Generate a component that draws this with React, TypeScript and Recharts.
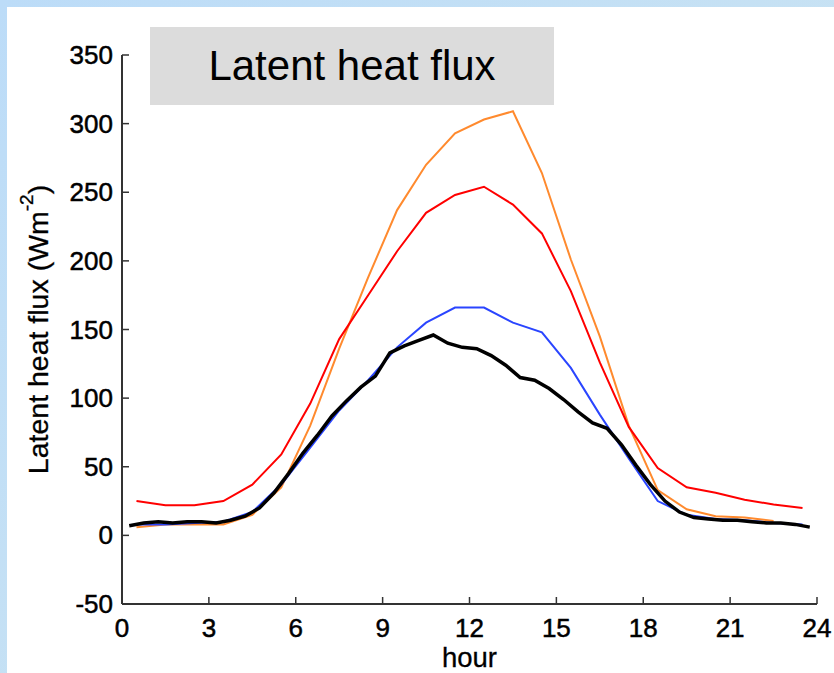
import { Line, LineChart, XAxis, YAxis } from "recharts";

// hours at half past each hour (colored runs)
const hoursMid = [
  0.5, 1.5, 2.5, 3.5, 4.5, 5.5, 6.5, 7.5, 8.5, 9.5, 10.5, 11.5,
  12.5, 13.5, 14.5, 15.5, 16.5, 17.5, 18.5, 19.5, 20.5, 21.5, 22.5, 23.5,
];

const redFlux = [
  25, 22, 22, 25, 37, 59, 96, 143, 175, 207, 235, 248,
  254, 241, 220, 178, 126, 79, 49, 35, 31, 26, 22.5, 20,
];

const orangeFlux = [
  6, 8, 8, 8, 15, 35, 80, 136, 188, 237, 270, 293,
  303, 309, 264, 201, 145, 80, 33, 19, 14, 13, 10.5, null,
];

const blueFlux = [
  8, 8, 9, 10, 17, 37, 64, 91, 113, 137, 155, 166,
  166, 155, 148, 122, 88, 56, 25, 15, 12, 11, 9, 8,
];

// observed run, finer time steps
const hoursObs = [
  0.25, 0.75, 1.25, 1.75, 2.25, 2.75, 3.25, 3.75, 4.25, 4.75, 5.25, 5.75,
  6.25, 6.75, 7.25, 7.75, 8.25, 8.75, 9.25, 9.75, 10.25, 10.75, 11.25, 11.75,
  12.25, 12.75, 13.25, 13.75, 14.25, 14.75, 15.25, 15.75, 16.25, 16.75, 17.25, 17.75,
  18.25, 18.75, 19.25, 19.75, 20.25, 20.75, 21.25, 21.75, 22.25, 22.75, 23.25, 23.75,
];

const blackFlux = [
  7, 9, 10, 9, 10, 10, 9, 11, 14, 20, 31, 45,
  60, 73, 87, 98, 108, 116, 133, 138, 142, 146, 140, 137,
  136, 131, 124, 115, 113, 107, 99, 90, 82, 78, 66, 51,
  37, 25, 17, 13, 12, 11, 11, 10, 9, 9, 8, 6,
];

const xTicks = [0, 3, 6, 9, 12, 15, 18, 21, 24];
const yTicks = [-50, 0, 50, 100, 150, 200, 250, 300, 350];

const toRows = (hours: number[], vals: (number | null)[]) =>
  hours.map((h, i) => ({ h, v: vals[i] }));

const FONT = "'Liberation Sans', Arial, Helvetica, sans-serif";
const AXIS = "#333";

function XTick(props: any) {
  const { x, y, payload } = props;
  return (
    <g>
      <line x1={x} x2={x} y1={y} y2={y - 7} stroke={AXIS} strokeWidth={1.5} />
      <text x={x} y={y + 33} textAnchor="middle" fontSize={26} fontFamily={FONT} fill="#000" stroke="#000" strokeWidth={0.5}>
        {payload.value}
      </text>
    </g>
  );
}

function YTick(props: any) {
  const { x, y, payload } = props;
  return (
    <g>
      <line x1={x} x2={x + 7} y1={y} y2={y} stroke={AXIS} strokeWidth={1.5} />
      <text x={x - 9} y={y + 9} textAnchor="end" fontSize={26} fontFamily={FONT} fill="#000" stroke="#000" strokeWidth={0.5}>
        {payload.value}
      </text>
    </g>
  );
}

export default function App() {
  return (
    <div
      style={{
        position: "absolute",
        left: 0,
        top: 0,
        width: 834,
        height: 673,
        background: "linear-gradient(135deg, #bcdcf8 0%, #cfe6f0 100%)",
        overflow: "hidden",
      }}
    >
      <div style={{ position: "absolute", left: 7, top: 7, right: 0, bottom: 0, background: "#fff" }} />
      <div
        style={{
          position: "absolute",
          left: 150,
          top: 27,
          width: 404,
          height: 78,
          background: "#dcdcdc",
        }}
      />
      <div
        style={{
          position: "absolute",
          left: 150,
          top: 42,
          width: 404,
          textAlign: "center",
          fontFamily: FONT,
          fontSize: 42,
          lineHeight: "48px",
          color: "#000",
        }}
      >
        Latent heat flux
      </div>
      <div style={{ position: "absolute", left: 0, top: 0 }}>
        <LineChart width={834} height={673} margin={{ top: 55, right: 17, bottom: 0, left: 0 }}>
          <XAxis
            type="number"
            dataKey="h"
            domain={[0, 24]}
            ticks={xTicks}
            height={69}
            tickSize={0}
            tickMargin={0}
            tickLine={false}
            tick={<XTick />}
            stroke={AXIS}
            strokeWidth={2}
            allowDuplicatedCategory={false}
            label={{
              content: (p: any) => {
                const vb = p.viewBox;
                return (
                  <text x={vb.x + vb.width / 2} y={vb.y + 63} textAnchor="middle" fontSize={27.5} fontFamily={FONT} fill="#000" stroke="#000" strokeWidth={0.3}>
                    hour
                  </text>
                );
              },
            }}
          />
          <YAxis
            type="number"
            domain={[-50, 350]}
            ticks={yTicks}
            width={122}
            tickSize={0}
            tickMargin={0}
            tickLine={false}
            tick={<YTick />}
            stroke={AXIS}
            strokeWidth={2}
            label={{
              content: (p: any) => {
                const vb = p.viewBox;
                const cx = vb.x + 38;
                const cy = vb.y + vb.height / 2;
                return (
                  <text
                    x={cx}
                    y={cy}
                    transform={`rotate(-90 ${cx} ${cy})`}
                    textAnchor="middle"
                    dominantBaseline="central"
                    fontSize={28.5}
                    fontFamily={FONT}
                    fill="#000"
                    stroke="#000"
                    strokeWidth={0.3}
                  >
                    Latent heat flux (Wm
                    <tspan dy={-12} fontSize={19}>-2</tspan>
                    <tspan dy={12}>)</tspan>
                  </text>
                );
              },
            }}
          />
          <Line data={toRows(hoursMid, orangeFlux)} dataKey="v" stroke="#ff8a2e" strokeWidth={2} dot={false} isAnimationActive={false} />
          <Line data={toRows(hoursMid, redFlux)} dataKey="v" stroke="#ff0000" strokeWidth={2} dot={false} isAnimationActive={false} />
          <Line data={toRows(hoursMid, blueFlux)} dataKey="v" stroke="#2a45ff" strokeWidth={2} dot={false} isAnimationActive={false} />
          <Line data={toRows(hoursObs, blackFlux)} dataKey="v" stroke="#000" strokeWidth={3.5} dot={false} isAnimationActive={false} />
        </LineChart>
      </div>
    </div>
  );
}
